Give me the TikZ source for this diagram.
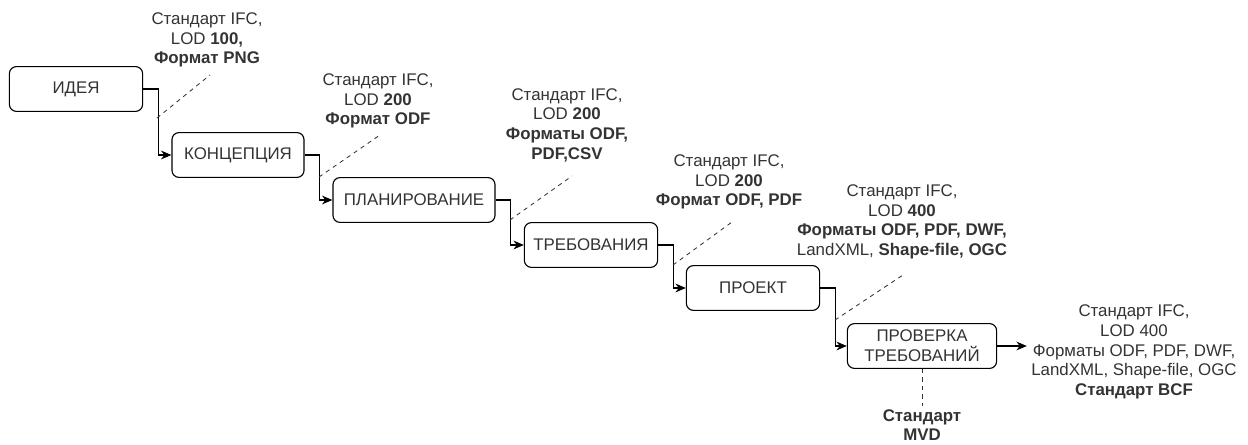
\documentclass[tikz,border=0pt]{standalone}
\usepackage{fontspec}
\setmainfont{Liberation Sans}
\usetikzlibrary{arrows.meta,positioning,calc}
\definecolor{txtgray}{HTML}{333333}
\tikzset{
  stage/.style={draw,rectangle,rounded corners=5pt,thick,align=center,text=txtgray,
    minimum height=1.12cm,inner sep=1pt,font=\fontsize{12}{14}\selectfont},
  note/.style={align=center,text=txtgray,inner sep=0pt,font=\fontsize{12}{14}\selectfont},
  arr/.style={-{Stealth[length=2.6mm,width=2.2mm]},line width=0.8pt},
  dsh/.style={dash pattern=on 3pt off 3pt,line width=0.6pt,draw=black!80}
}

\begin{document}
\begin{tikzpicture}[x=0.025cm, y=-0.025cm]
  \useasboundingbox (0,0) rectangle (1248,445);
  % Stages
  \node[stage, minimum width=3.33cm] (idea) at (76,89) {ИДЕЯ};
  \node[stage, minimum width=3.3cm] (concept) at (238,155) {КОНЦЕПЦИЯ};
  \node[stage, minimum width=4.05cm] (plan) at (414,200) {ПЛАНИРОВАНИЕ};
  \node[stage, minimum width=3.33cm] (req) at (591,245) {ТРЕБОВАНИЯ};
  \node[stage, minimum width=3.33cm] (proj) at (753,288) {ПРОЕКТ};
  \node[stage, minimum width=3.73cm] (check) at (922,346) {ПРОВЕРКА\\ТРЕБОВАНИЙ};

  % Stage connections
  \draw[arr] (idea.east) -- ++(15,0) |- (concept.west);
  \draw[arr] (concept.east) -- ++(15,0) |- (plan.west);
  \draw[arr] (plan.east) -- ++(15,0) |- (req.west);
  \draw[arr] (req.east) -- ++(15,0) |- (proj.west);
  \draw[arr] (proj.east) -- ++(15,0) |- (check.west);

  % Notes on formats
  \node[note] (fmt1) at (207,40) {Стандарт IFC,\\LOD \textbf{100,}\\\textbf{Формат PNG}};
  \node[note] (fmt2) at (378,101) {Стандарт IFC,\\LOD \textbf{200}\\\textbf{Формат ODF}};
  \node[note] (fmt3) at (567,125) {Стандарт IFC,\\LOD \textbf{200}\\\textbf{Форматы ODF,}\\\textbf{PDF,CSV}};
  \node[note] (fmt4) at (729,182) {Стандарт IFC,\\LOD \textbf{200}\\\textbf{Формат ODF, PDF}};
  \node[note] (fmt5) at (902,222) {Стандарт IFC,\\LOD \textbf{400}\\\textbf{Форматы ODF, PDF, DWF,}\\LandXML, \textbf{Shape-file, OGC}};
  \node[note, anchor=west] (out) at (1031,352) {Стандарт IFC,\\LOD 400\\Форматы ODF, PDF, DWF,\\LandXML, Shape-file, OGC\\\textbf{Стандарт BCF}};
  \node[note] (mvd) at (922,425) {\textbf{Стандарт}\\\textbf{MVD}};

  % Dashed links
  \coordinate (s1) at (157,118); \coordinate (e1) at (210,75);
  \coordinate (s2) at (319,177); \coordinate (e2) at (380,135);
  \coordinate (s3) at (510,220); \coordinate (e3) at (572,176);
  \coordinate (s4) at (673,265); \coordinate (e4) at (732,222);
  \coordinate (s5) at (835,320); \coordinate (e5) at (903,275);
  \foreach \i in {1,...,5}
    \draw[dsh] (s\i) -- (e\i);
  \draw[dsh] (check.south) -- ($(mvd.north)+(0,-3)$);

  % Result
  \draw[arr, shorten >=3pt] (check.east) -- (check.east -| out.west);

\end{tikzpicture}
\end{document}
